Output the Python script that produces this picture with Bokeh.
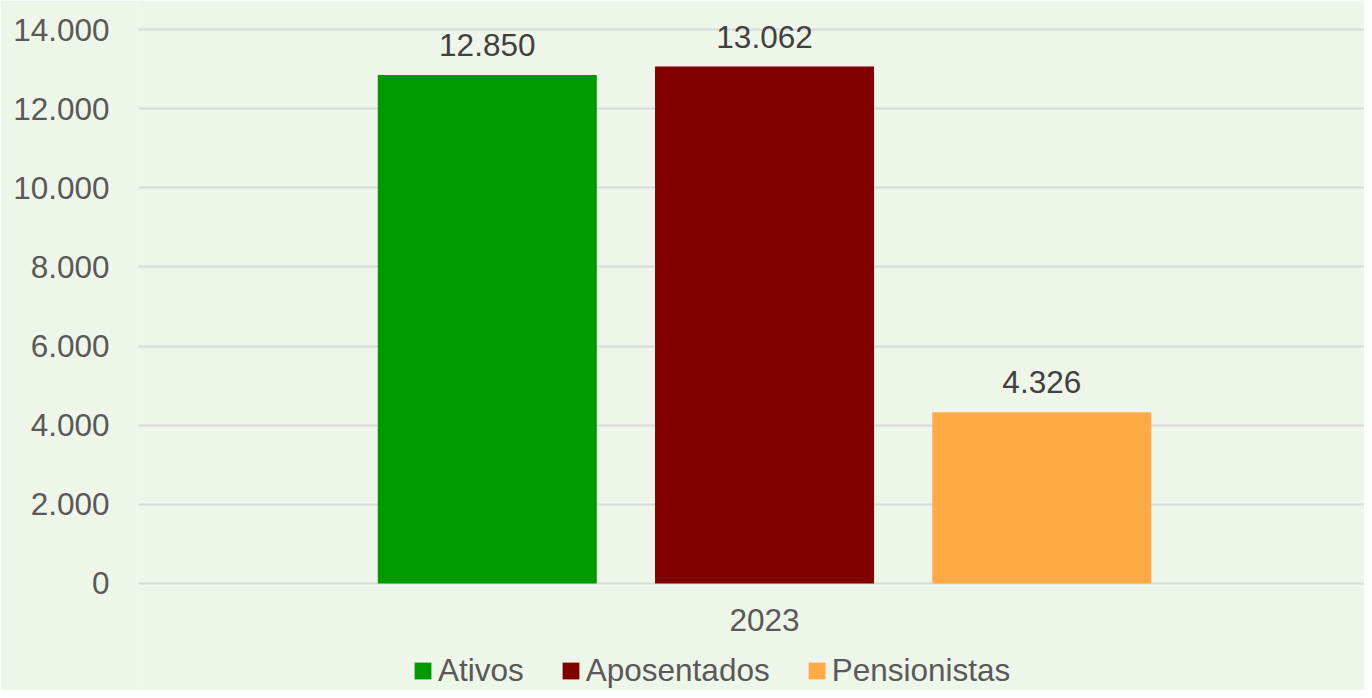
from bokeh.plotting import figure
from bokeh.models import ColumnDataSource, Range1d, FixedTicker, CustomJSTickFormatter, Legend, LegendItem, LabelSet
from bokeh.core.properties import value
from bokeh.embed import file_html
from bokeh.resources import INLINE
import numpy as np

# data
year = ["2023"]
series = ["Ativos", "Aposentados", "Pensionistas"]
values = [12850, 13062, 4326]
colors = ["#009900", "#800000", "#FFAA44"]
yticks = [0, 2000, 4000, 6000, 8000, 10000, 12000, 14000]

FONT = "Liberation Sans"
FS = "31.5px"
BG = "#eef6ea"

xs = np.arange(len(series))
labels = [f"{v:,}".replace(",", ".") for v in values]
src = ColumnDataSource(dict(x=xs, top=values, color=colors, name=series, label=labels))
cat_src = ColumnDataSource(dict(x=[float(np.mean(xs))], y=[0], label=year))

p = figure(width=1364, height=690, output_backend="svg", toolbar_location=None,
           x_range=Range1d(-1.258, 3.164), y_range=Range1d(-2704, 14733),
           x_axis_location=None,
           min_border_left=138, min_border_right=0, min_border_top=0, min_border_bottom=0)
p.background_fill_color = BG
p.border_fill_color = BG
p.outline_line_color = None

r = p.vbar(x="x", top="top", width=0.79, bottom=0, color="color", source=src, line_color=None)

lbl = LabelSet(x="x", y="top", text="label", source=src, text_align="center", text_baseline="alphabetic",
               y_offset=19, text_font=value(FONT), text_font_size=FS, text_color="#404040")
p.add_layout(lbl)

# category label under the bars (x axis category)
cat = LabelSet(x="x", y="y", text="label", source=cat_src, text_align="center", text_baseline="middle",
               y_offset=-37, text_font=value(FONT), text_font_size=FS, text_color="#595959")
p.add_layout(cat)

# y axis
p.yaxis.ticker = FixedTicker(ticks=yticks)
p.yaxis.formatter = CustomJSTickFormatter(code="return tick.toFixed(0).replace(/\\B(?=(\\d{3})+(?!\\d))/g, '.');")
p.yaxis.axis_line_color = None
p.yaxis.major_tick_line_color = None
p.yaxis.minor_tick_line_color = None
p.yaxis.major_tick_out = 0
p.yaxis.major_label_standoff = 29
p.yaxis.major_label_text_font = FONT
p.yaxis.major_label_text_font_size = FS
p.yaxis.major_label_text_color = "#595959"

p.xgrid.grid_line_color = None
p.ygrid.grid_line_color = "#d9d9d9"
p.ygrid.grid_line_width = 2

items = [LegendItem(label=s, renderers=[r], index=i) for i, s in enumerate(series)]
leg = Legend(items=items, orientation="horizontal", location=(274, 1),
             label_text_font=FONT, label_text_font_size=FS, label_text_color="#595959",
             glyph_width=21, glyph_height=21, label_standoff=5, spacing=36,
             background_fill_alpha=0, border_line_color=None, padding=0, margin=0)
p.add_layout(leg)

open("out.html", "w").write(file_html(p, INLINE))
